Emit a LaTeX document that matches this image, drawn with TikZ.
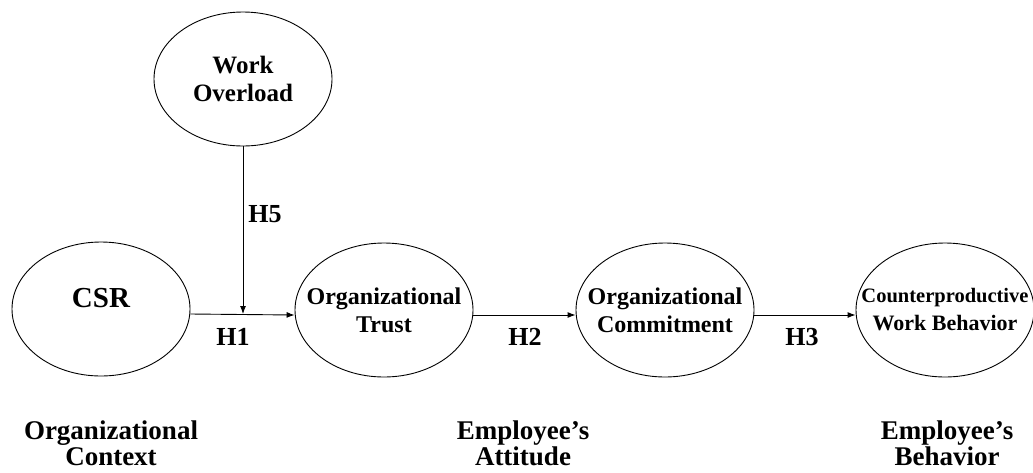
\documentclass[tikz,border=0pt]{standalone}
\usepackage{fontspec}
\setmainfont{Liberation Serif}
\usetikzlibrary{shapes.geometric,arrows.meta}
\begin{document}
\begin{tikzpicture}[x=1pt,y=-1pt,
  construct/.style={draw,ellipse,line width=0.9pt,minimum width=178pt,minimum height=134pt,inner sep=0pt},
  inner/.style={align=center,font=\bfseries\fontsize{24}{28}\selectfont},
  hyp/.style={font=\bfseries\fontsize{26}{30}\selectfont},
  level/.style={align=center,inner sep=0pt,font=\bfseries\fontsize{27}{26}\selectfont},
  link/.style={line width=0.9pt,-{Latex[length=8pt,width=6pt]}}]
\useasboundingbox (0,0) rectangle (1033,472);
\node[construct,label={[inner,font=\bfseries\fontsize{25}{28}\selectfont]center:Work\\Overload}] (wo) at (243,79) {};
\node[construct,label={[inner,font=\bfseries\fontsize{29}{34}\selectfont,yshift=11pt]center:CSR}] (csr) at (101,309) {};
\node[construct,label={[inner]center:Organizational\\Trust}] (trust) at (384,310) {};
\node[construct,label={[inner]center:Organizational\\Commitment}] (comm) at (665,310) {};
\node[construct,label={[inner,font=\bfseries\fontsize{20.5}{28}\selectfont]center:Counterproductive\\{\fontsize{22}{27}\selectfont Work Behavior}}] (cwb) at (945,310) {};
\coordinate (j) at (243,314);
\draw[link] ([yshift=-5pt]csr.east) -- ([yshift=-5pt]trust.west);
\draw[link] (wo.south) -- (j);
\draw[link] ([yshift=-5pt]trust.east) -- ([yshift=-5pt]comm.west);
\draw[link] ([yshift=-5pt]comm.east) -- ([yshift=-5pt]cwb.west);
\node[hyp] (h5) at (265,214) {H5};
\node[hyp] (h1) at (233,337) {H1};
\node[hyp] (h2) at (525,337) {H2};
\node[hyp] (h3) at (802,337) {H3};
\node[level] (l1) at (111,443) {Organizational\\Context};
\node[level] (l2) at (523,443) {Employee’s\\Attitude};
\node[level] (l3) at (947,443) {Employee’s\\Behavior};
\end{tikzpicture}
\end{document}
